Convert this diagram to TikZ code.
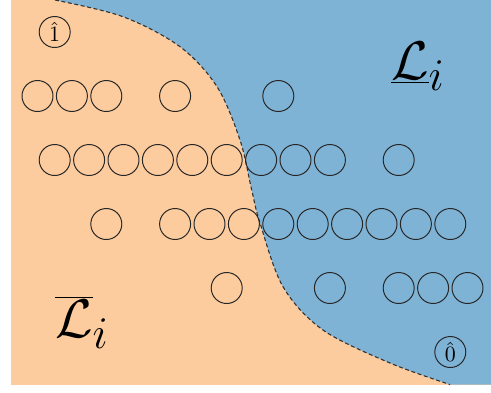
\documentclass[tikz,border=0pt]{standalone}
\definecolor{peach}{RGB}{253,204,158}
\definecolor{skyb}{RGB}{127,179,213}
\begin{document}
\begin{tikzpicture}[x=0.457pt,y=-0.457pt,
  elem/.style={circle,draw=black!85,line width=0.45pt,minimum size={31*0.457pt},inner sep=0pt},
  border/.style={draw=black!80,line width=0.5pt,dash pattern=on 1.8pt off 1.2pt},
  biglabel/.style={font=\Huge}]
\useasboundingbox (0,0) rectangle (491,392);
\fill[peach] (11,0) rectangle (491,384.5);
\def\curvepts{(55,0) (123,16.7) (180,46.7) (217,86.7) (240,140) (251.7,190) (260,223) (283,286.7) (323,330) (390,363) (450,384.5)}
\fill[skyb] plot[smooth,tension=0.55] coordinates {\curvepts} -- (491,384.5) -- (491,0) -- cycle;
\draw[border] plot[smooth,tension=0.55] coordinates {\curvepts};
% row 0 (half offset)
\node[elem] (top) at (54.7,32) {$\hat{1}$};
% row 1
\foreach \i in {0,1,2,4,7} \node[elem] (a\i) at ({37.5+\i*34.4},96) {};
% row 2
\foreach \i in {0,...,8,10} \node[elem] (b\i) at ({54.7+\i*34.4},160) {};
% row 3
\foreach \i in {2,4,5,...,12} \node[elem] (c\i) at ({37.5+\i*34.4},224) {};
% row 4
\foreach \i in {5,8,10,11,12} \node[elem] (d\i) at ({54.7+\i*34.4},288) {};
% row 5
\node[elem] (bot) at (450.3,352) {$\hat{0}$};
\node[biglabel] (up) at (418,66) {$\underline{\mathcal{L}}_i$};
\node[biglabel] (down) at (82,322) {$\overline{\mathcal{L}}_i$};
\end{tikzpicture}
\end{document}
